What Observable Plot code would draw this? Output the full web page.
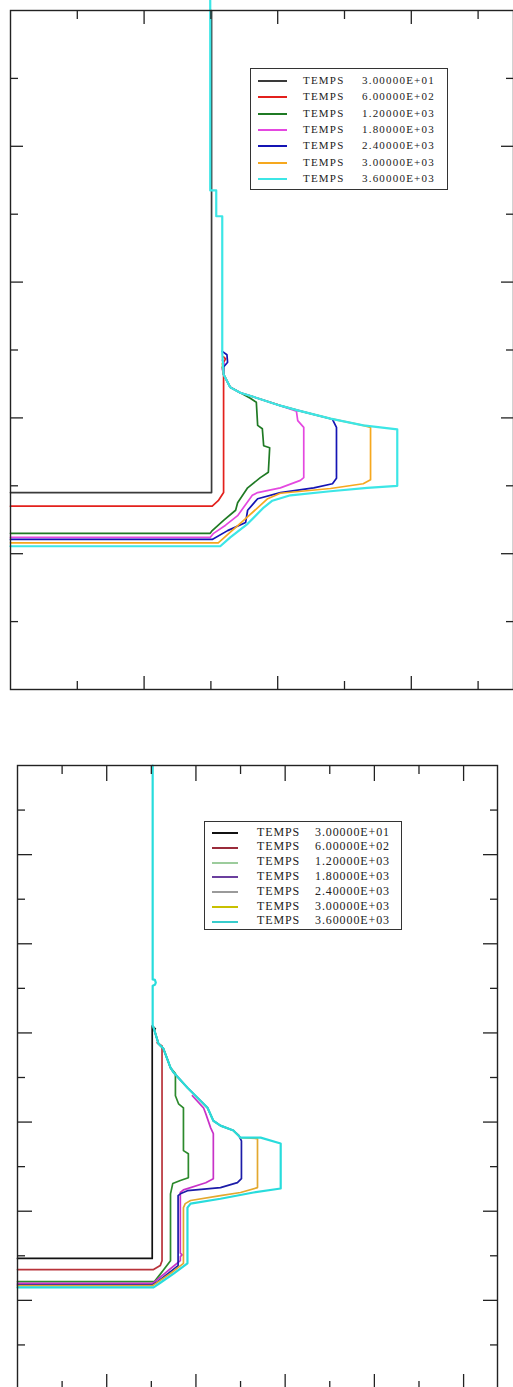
<!DOCTYPE html>
<html><head><meta charset="utf-8">
<script src="https://cdn.jsdelivr.net/npm/d3@7"></script>
<script src="https://cdn.jsdelivr.net/npm/@observablehq/plot@0.6"></script>
<style>
html,body{margin:0;padding:0;background:#fff;}
#wrap{position:relative;width:513px;height:1387px;overflow:hidden;background:#fff;}
.panel{position:absolute;left:0;}
.legend{position:absolute;border:1px solid #333;background:#fff;box-sizing:border-box;font-family:"Liberation Serif","Times New Roman",serif;color:#222;}
.sw{position:absolute;height:2px;}
.tx{position:absolute;white-space:nowrap;}
</style></head><body><div id="wrap"></div>
<script>
// ---------- data ----------
const legendWord = "TEMPS";
const times = ["3.00000E+01","6.00000E+02","1.20000E+03","1.80000E+03","2.40000E+03","3.00000E+03","3.60000E+03"];

// upper panel series: [x, y]
const topBlack   = [[0,2.90],[3.01,2.90],[3.01,10.0]];
const topRed     = [[0,2.70],[3.02,2.70],[3.11,2.78],[3.19,2.90],[3.19,4.82],[3.22,4.87],[3.19,4.90]];
const topGreen   = [[0,2.30],[2.99,2.30],[3.02,2.34],[3.19,2.49],[3.37,2.64],[3.40,2.75],[3.55,2.97],[3.74,3.12],[3.86,3.20],[3.88,3.56],[3.79,3.59],[3.77,3.84],[3.70,3.89],[3.68,4.23],[3.59,4.29],[3.44,4.37],[3.29,4.45],[3.19,4.64],[3.17,4.75]];
const topMagenta = [[0,2.24],[2.99,2.24],[3.04,2.30],[3.22,2.42],[3.40,2.56],[3.62,2.86],[3.70,2.90],[4.04,2.97],[4.34,3.08],[4.39,3.12],[4.39,3.86],[4.30,3.96],[4.28,4.10],[4.04,4.18],[3.70,4.29],[3.44,4.37],[3.29,4.45],[3.19,4.64],[3.17,4.72],[3.20,4.80],[3.17,4.85]];
const topBlue    = [[0,2.21],[3.02,2.21],[3.25,2.34],[3.52,2.46],[3.55,2.64],[3.70,2.81],[4.04,2.90],[4.54,2.97],[4.82,3.03],[4.88,3.11],[4.88,3.86],[4.82,3.98],[4.30,4.11],[4.04,4.18],[3.70,4.29],[3.44,4.37],[3.29,4.45],[3.19,4.64],[3.19,4.75],[3.25,4.82],[3.24,4.93],[3.17,4.98]];
const topOrange  = [[0,2.16],[3.11,2.16],[3.49,2.49],[3.85,2.81],[4.04,2.89],[4.79,2.96],[5.28,3.03],[5.39,3.09],[5.39,3.86],[5.28,3.89],[4.79,3.99],[4.30,4.11],[4.04,4.18],[3.70,4.29],[3.44,4.37],[3.29,4.45],[3.19,4.64],[3.17,4.80]];
const topCyan    = [[0,2.11],[3.14,2.11],[3.29,2.24],[3.55,2.44],[3.79,2.68],[3.92,2.78],[4.19,2.86],[4.79,2.92],[5.34,2.97],[5.79,3.00],[5.79,3.83],[5.28,3.89],[4.79,3.99],[4.30,4.11],[4.04,4.18],[3.70,4.29],[3.44,4.37],[3.29,4.45],[3.19,4.64],[3.17,4.96],[3.17,6.97],[3.08,6.97],[3.08,7.35],[2.99,7.35],[2.99,10.15]];

// lower panel series: [x, y]
const botBlack   = [[0,2.94],[3.02,2.94],[3.02,8.16],[3.09,8.09]];
const botRed     = [[0,2.69],[3.05,2.69],[3.20,2.78],[3.24,2.89],[3.24,7.71],[3.13,7.78]];
const botGreen   = [[0,2.42],[3.07,2.42],[3.21,2.60],[3.43,2.89],[3.43,4.39],[3.48,4.62],[3.65,4.69],[3.83,4.75],[3.83,5.29],[3.72,5.36],[3.72,6.32],[3.61,6.41],[3.54,6.59],[3.54,7.09],[3.43,7.22],[3.27,7.65],[3.16,7.76],[3.05,8.12]];
const botMagenta = [[0,2.38],[3.03,2.38],[3.14,2.47],[3.38,2.67],[3.65,2.89],[3.65,2.98],[3.69,3.02],[3.65,3.06],[3.65,4.42],[3.72,4.48],[4.22,4.64],[4.39,4.73],[4.39,5.74],[4.33,5.87],[4.22,6.19],[4.17,6.32],[3.92,6.59]];
const botBlue    = [[0,2.35],[3.03,2.35],[3.14,2.42],[3.40,2.62],[3.60,2.78],[3.60,4.35],[3.65,4.39],[3.81,4.46],[4.55,4.53],[4.93,4.64],[5.02,4.73],[5.02,5.58],[4.96,5.70],[4.84,5.81],[4.55,5.92],[4.39,6.03],[4.26,6.32],[3.81,6.77],[3.50,7.11],[3.43,7.22],[3.27,7.65],[3.16,7.76],[3.05,8.12]];
const botOrange  = [[0,2.33],[3.03,2.33],[3.16,2.42],[3.45,2.62],[3.72,2.83],[3.72,4.08],[3.76,4.17],[3.88,4.24],[4.55,4.35],[5.00,4.42],[5.38,4.53],[5.38,5.63],[5.00,5.65],[4.84,5.81],[4.55,5.92],[4.39,6.03],[4.26,6.32],[3.81,6.77],[3.50,7.11],[3.43,7.22],[3.27,7.65],[3.16,7.76],[3.05,8.12]];
const botCyan    = [[0,2.29],[3.05,2.29],[3.21,2.40],[3.50,2.60],[3.81,2.83],[3.81,4.08],[3.88,4.17],[4.55,4.28],[5.29,4.42],[5.90,4.51],[5.90,5.52],[5.45,5.65],[5.00,5.65],[4.84,5.81],[4.55,5.92],[4.39,6.03],[4.26,6.32],[3.81,6.77],[3.50,7.11],[3.43,7.22],[3.27,7.65],[3.16,7.76],[3.05,8.12],[3.03,8.16],[3.03,9.06],[3.08,9.08],[3.10,9.13],[3.08,9.19],[3.03,9.20],[3.03,14.0]];

// tick values
const topXTicks = [1,2,3,4,5,6,7];
const topYTicks = [1,2,3,4,5,6,7,8,9];
const botXTicks = [1,2,3,4,5,6,7,8,9,10];
const botYTicks = [1,2,3,4,5,6,7,8,9,10,11,12,13];

// colours
const topColors = ["#3a3a3a","#e3201c","#1f7a24","#e448e0","#1414b4","#f6a81e","#3ce6e6"];
const botColors = ["#111111","#b8333a","#2c8a2c","#c832c8","#1c1ca8","#e3a82e","#28dcdc"];
const botLegendColors = ["#111111","#9a2b3a","#9ccc9c","#6b3f9e","#9a9a9a","#c8c000","#38cccc"];

const topSeries = [topBlack, topRed, topGreen, topMagenta, topBlue, topOrange, topCyan];
const botSeries = [botBlack, botRed, botGreen, botMagenta, botBlue, botOrange, botCyan];

// ---------- drawing ----------
const ink = "#222";
function tickAxes(xt, yt, longLen, shortLen) {
  const ev = a => a.filter(v => v % 2 === 0), od = a => a.filter(v => v % 2 === 1);
  const common = {tickFormat: () => "", label: null, stroke: ink, strokeWidth: 1.3};
  return [
    Plot.axisX(ev(xt), {...common, anchor: "top", tickSize: -longLen}),
    Plot.axisX(od(xt), {...common, anchor: "top", tickSize: -shortLen}),
    Plot.axisX(ev(xt), {...common, anchor: "bottom", tickSize: -longLen}),
    Plot.axisX(od(xt), {...common, anchor: "bottom", tickSize: -shortLen}),
    Plot.axisY(ev(yt), {...common, anchor: "left", tickSize: -longLen}),
    Plot.axisY(od(yt), {...common, anchor: "left", tickSize: -shortLen}),
    Plot.axisY(ev(yt), {...common, anchor: "right", tickSize: -longLen}),
    Plot.axisY(od(yt), {...common, anchor: "right", tickSize: -shortLen})
  ];
}
function seriesMarks(series, colors) {
  return series.map((s, i) => Plot.line(s, {
    x: d => d[0], y: d => d[1], stroke: colors[i],
    strokeWidth: i === 6 ? 2.2 : 1.7, curve: "linear"
  }));
}

const wrap = document.getElementById("wrap");

const topChart = Plot.plot({
  width: 513, height: 700,
  marginLeft: 10, marginRight: 0, marginTop: 10, marginBottom: 11,
  x: {domain: [0, 7.53], axis: null},
  y: {domain: [0, 10], axis: null},
  style: {background: "transparent", overflow: "visible"},
  marks: [
    ...seriesMarks(topSeries, topColors),
    Plot.frame({stroke: ink, strokeWidth: 1.4}),
    ...tickAxes(topXTicks, topYTicks, 13, 8)
  ]
});
topChart.classList.add("panel");
topChart.style.top = "0px";
wrap.appendChild(topChart);

const botChart = Plot.plot({
  width: 513, height: 692,
  marginLeft: 17, marginRight: 16, marginTop: 65, marginBottom: 3,
  x: {domain: [0, 10.76], axis: null},
  y: {domain: [0, 14], axis: null},
  style: {background: "transparent", overflow: "visible"},
  marks: [
    ...seriesMarks(botSeries, botColors),
    Plot.frame({stroke: ink, strokeWidth: 1.4}),
    ...tickAxes(botXTicks, botYTicks, 15, 8)
  ]
});
botChart.classList.add("panel");
botChart.style.top = "700px";
wrap.appendChild(botChart);

// ---------- legends ----------
function legend(box, colors) {
  const div = document.createElement("div");
  div.className = "legend";
  Object.assign(div.style, {left: box.left + "px", top: box.top + "px", width: box.w + "px", height: box.h + "px"});
  times.forEach((t, i) => {
    const cy = box.first + i * box.step;
    const sw = document.createElement("div");
    sw.className = "sw";
    Object.assign(sw.style, {left: box.swL + "px", width: box.swW + "px", top: (cy - 1) + "px", background: colors[i]});
    div.appendChild(sw);
    const w = document.createElement("div");
    w.className = "tx";
    Object.assign(w.style, {left: box.wordL + "px", top: (cy - box.fs * 0.62) + "px", fontSize: box.fs + "px", letterSpacing: box.ls + "px", lineHeight: "1.15"});
    w.textContent = legendWord;
    div.appendChild(w);
    const v = document.createElement("div");
    v.className = "tx";
    Object.assign(v.style, {left: box.valL + "px", top: (cy - box.fs * 0.62) + "px", fontSize: box.fs + "px", letterSpacing: box.ls + "px", lineHeight: "1.15"});
    v.textContent = t;
    div.appendChild(v);
  });
  wrap.appendChild(div);
}
legend({left: 250, top: 68, w: 198, h: 122, first: 12, step: 16.3, swL: 7, swW: 29, wordL: 52, valL: 111, fs: 11, ls: 1.2}, topColors);
legend({left: 204, top: 821, w: 198, h: 109, first: 11, step: 14.8, swL: 7, swW: 26, wordL: 52, valL: 110, fs: 12, ls: 0.9}, botLegendColors);
</script></body></html>
